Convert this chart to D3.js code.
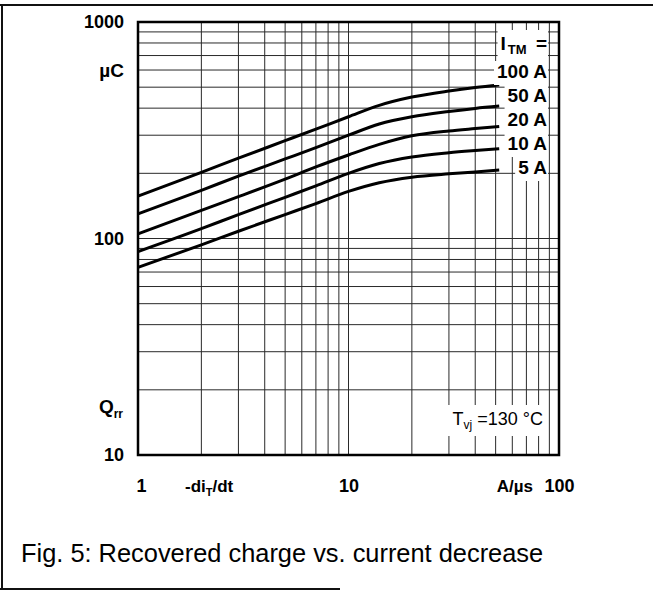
<!DOCTYPE html>
<html>
<head>
<meta charset="utf-8">
<script src="https://cdn.jsdelivr.net/npm/d3@7"></script>
<style>
  body { margin: 0; background: #fff; }
  svg { display: block; font-family: "Liberation Sans", Arial, Helvetica, sans-serif; }
</style>
</head>
<body>
<svg id="chart" width="653" height="596"></svg>
<script>
const diDt = [1, 2, 3, 5, 7, 10, 14, 20, 30, 40, 52];

// Qrr (uC) for each on-state current I_TM
const qrr100A = [157, 202, 235, 283, 320, 365, 412, 450, 480, 498, 512];
const qrr50A  = [130, 167, 194, 233, 263, 300, 338, 365, 386, 399, 409];
const qrr20A  = [105, 135, 156, 188, 214, 243, 272, 298, 314, 322, 329];
const qrr10A  = [87, 111, 129, 155, 175, 200, 222, 238, 249, 255, 260];
const qrr5A   = [73.5, 93.5, 108, 129, 145, 165, 181, 192, 199, 203, 207];

const seriesNames = ["100 A", "50 A", "20 A", "10 A", "5 A"];
const seriesValues = [qrr100A, qrr50A, qrr20A, qrr10A, qrr5A];

const xTickValues = [1, 10, 100];
const yTickValues = [10, 100, 1000];

const svg = d3.select("#chart");
const plot = { left: 138, right: 559, top: 22, bottom: 455 };

const x = d3.scaleLog().domain([1, 100]).range([plot.left, plot.right]);
const y = d3.scaleLog().domain([10, 1000]).range([plot.bottom, plot.top]);

// figure frame (open on the right, like the scan)
const frame = svg.append("g").attr("stroke", "#111").attr("stroke-width", 2).attr("fill", "none");
frame.append("line").attr("x1", 0).attr("x2", 653).attr("y1", 5).attr("y2", 5);
frame.append("line").attr("x1", 2).attr("x2", 2).attr("y1", 5).attr("y2", 589);
frame.append("line").attr("x1", 0).attr("x2", 340).attr("y1", 589).attr("y2", 589);

// log grid
const grid = svg.append("g").attr("stroke", "#2a2a2a").attr("stroke-width", 1);
grid.selectAll(".vx").data(x.ticks()).join("line")
    .attr("x1", d => x(d)).attr("x2", d => x(d))
    .attr("y1", plot.top).attr("y2", plot.bottom);
grid.selectAll(".hy").data(y.ticks()).join("line")
    .attr("x1", plot.left).attr("x2", plot.right)
    .attr("y1", d => y(d)).attr("y2", d => y(d));

// curves
const line = d3.line()
    .x(d => x(d[0]))
    .y(d => y(d[1]))
    .curve(d3.curveMonotoneX);

svg.append("g").selectAll("path")
    .data(seriesValues)
    .join("path")
    .attr("fill", "none")
    .attr("stroke", "#000")
    .attr("stroke-width", 3)
    .attr("stroke-linejoin", "round")
    .attr("d", vals => line(vals.map((v, i) => [diDt[i], v])));

// legend, each row on a white patch that hides the grid
const rowGap = 24;
const legend = svg.append("g")
    .attr("font-size", 19)
    .attr("font-weight", "bold")
    .attr("text-anchor", "end");

const itm = legend.append("text").attr("x", 547).attr("y", 50);
itm.append("tspan").text("I");
itm.append("tspan").attr("font-size", 13).attr("dx", 2).attr("dy", 4).text("TM");
itm.append("tspan").attr("dx", 4).attr("dy", -4).text(" =");

legend.selectAll(".lab").data(seriesNames).join("text")
    .attr("class", "lab")
    .attr("x", 547)
    .attr("y", (d, i) => 78 + i * rowGap)
    .text(d => d);

legend.selectAll("text").each(function() {
    const b = this.getBBox();
    const base = +this.getAttribute("y");
    const top = this === itm.node() ? base - 20 : base - 17;
    const bottom = this === itm.node() ? base + 11 : base + 7;
    legend.insert("rect", () => this)
        .attr("x", b.x - 3).attr("y", top)
        .attr("width", 548 - (b.x - 3)).attr("height", bottom - top)
        .attr("fill", "#fff");
});

const tvjG = svg.append("g").attr("font-size", 18).attr("text-anchor", "end");
const tvj = tvjG.append("text").attr("x", 543).attr("y", 425);
tvj.append("tspan").text("T");
tvj.append("tspan").attr("font-size", 12).attr("dy", 4).text("vj");
tvj.append("tspan").attr("dy", -4).text(" =130 \u00B0C");
{
    const b = tvj.node().getBBox();
    tvjG.insert("rect", "text")
        .attr("x", b.x - 5).attr("y", b.y - 4)
        .attr("width", b.width + 9).attr("height", b.height + 8)
        .attr("fill", "#fff");
}

// plot border
svg.append("rect")
    .attr("x", plot.left).attr("y", plot.top)
    .attr("width", plot.right - plot.left).attr("height", plot.bottom - plot.top)
    .attr("fill", "none").attr("stroke", "#000").attr("stroke-width", 2.5);

// axes: labels only
const yAxis = svg.append("g")
    .attr("transform", `translate(${plot.left},0)`)
    .call(d3.axisLeft(y).tickValues(yTickValues).tickSize(0).tickPadding(14).tickFormat(d3.format("d")));
const xAxis = svg.append("g")
    .attr("transform", `translate(0,${plot.bottom})`)
    .call(d3.axisBottom(x).tickValues(xTickValues).tickSize(0).tickPadding(24).tickFormat(d3.format("d")));
[yAxis, xAxis].forEach(a => {
    a.select(".domain").remove();
    a.attr("font-family", null).attr("font-size", 18).attr("font-weight", "bold");
    a.selectAll("text").attr("fill", "#000");
});
xAxis.selectAll("text").attr("dx", d => d === 1 ? 3 : 0);

// unit and quantity labels
const units = svg.append("g").attr("font-size", 18).attr("font-weight", "bold");

units.append("text").attr("x", 124).attr("y", 77).attr("text-anchor", "end")
    .attr("font-size", 19).text("\u00B5C");

const qrr = units.append("text").attr("x", 123).attr("y", 413).attr("text-anchor", "end");
qrr.append("tspan").attr("font-size", 19).text("Q");
qrr.append("tspan").attr("font-size", 12).attr("dy", 5).text("rr");

const didt = units.append("text").attr("x", 185).attr("y", 492).attr("font-size", 17);
didt.append("tspan").text("-di");
didt.append("tspan").attr("font-size", 11).attr("dy", 4).text("T");
didt.append("tspan").attr("dy", -4).text("/dt");

units.append("text").attr("x", 533).attr("y", 492).attr("text-anchor", "end")
    .attr("font-size", 17).text("A/\u00B5s");

// caption
svg.append("text")
    .attr("x", 21).attr("y", 562)
    .attr("font-size", 25.4)
    .text("Fig. 5: Recovered charge vs. current decrease");
</script>
</body>
</html>
